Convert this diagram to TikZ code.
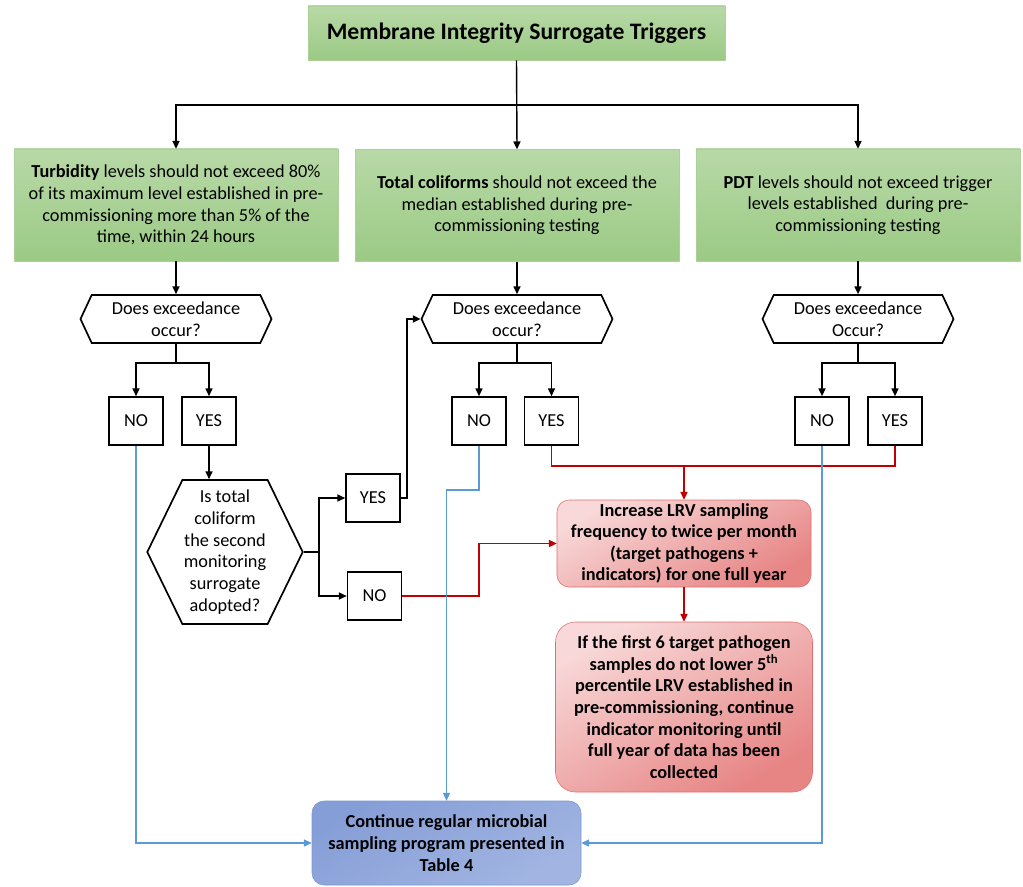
\documentclass[tikz,border=0pt]{standalone}
\usepackage{fontspec}
\setmainfont{Carlito}
\usetikzlibrary{arrows.meta, positioning, calc, shapes.symbols}
\definecolor{LeafTop}{RGB}{184, 217, 167}
\definecolor{LeafBottom}{RGB}{155, 202, 133}
\definecolor{LeafEdge}{RGB}{172, 208, 152}
\definecolor{AlertTop}{RGB}{248, 216, 216}
\definecolor{AlertBottom}{RGB}{231, 132, 132}
\definecolor{AlertEdge}{RGB}{224, 110, 110}
\definecolor{AlertLine}{RGB}{192, 0, 0}
\definecolor{CalmTop}{RGB}{134, 158, 215}
\definecolor{CalmBottom}{RGB}{162, 181, 226}
\definecolor{CalmEdge}{RGB}{122, 152, 212}
\definecolor{CalmLine}{RGB}{91, 155, 213}
\newlength{\unitpx}
\setlength{\unitpx}{0.025cm}

\begin{document}
\begin{tikzpicture}[
    x=0.025cm, y=-0.025cm,
    font={\fontsize{13}{15.4}\selectfont},
    titlebox/.style={
        top color=LeafTop,          % light green at the top
        bottom color=LeafBottom,    % darker green at the bottom
        draw=LeafEdge,
        inner sep=2pt,
        minimum width=417\unitpx,
        minimum height=54\unitpx,
        font={\fontsize{16.8}{19}\selectfont\bfseries}
    },
    greenbox/.style={
        top color=LeafTop,
        bottom color=LeafBottom,
        draw=LeafEdge,
        inner sep=1pt,
        align=center,
        minimum width=324\unitpx,
        minimum height=112\unitpx
    },
    decision/.style={
        signal,
        signal to=west and east,
        signal pointer angle=130,
        draw=black,
        line width=1.2pt,
        inner sep=1pt,
        align=center,
        minimum width=191\unitpx,
        minimum height=48\unitpx
    },
    answer/.style={
        draw=black,
        line width=1.2pt,
        minimum width=54\unitpx,
        minimum height=48\unitpx
    },
    redbox/.style={
        rounded corners=12\unitpx,
        top color=AlertTop,
        bottom color=AlertBottom,
        shading angle=30,
        draw=AlertEdge,
        align=center,
        inner sep=0pt,
        font={\fontsize{13}{15.4}\selectfont\bfseries}
    },
    bluebox/.style={
        rounded corners=12\unitpx,
        top color=CalmTop,
        bottom color=CalmBottom,
        shading angle=30,
        draw=CalmEdge,
        align=center,
        inner sep=0pt,
        minimum width=269\unitpx,
        minimum height=84\unitpx,
        font={\fontsize{13}{15.4}\selectfont\bfseries}
    },
    link/.style={
        draw=black,
        line width=1pt
    },
    flow/.style={
        link,
        -{Triangle[length=5.5pt, width=5pt]}
    },
    redlink/.style={
        draw=AlertLine,
        line width=1pt
    },
    redflow/.style={
        redlink,
        -{Triangle[length=5.5pt, width=5pt]}
    },
    blueflow/.style={
        draw=CalmLine,
        line width=1pt,
        -{Triangle[length=5.5pt, width=5pt]}
    }
]
    \useasboundingbox (0,0) rectangle (1023,886);

    % --- 1. Triggers ---
    \node[titlebox] (title) at (516.5,33) {Membrane Integrity Surrogate Triggers};
    \node[greenbox] (turb) at (176,205) {\textbf{Turbidity} levels should not exceed 80\%\\of its maximum level established in pre-\\commissioning more than 5\% of the\\time, within 24 hours};
    \node[greenbox] (coli) at (517,205.5) {\textbf{Total coliforms} should not exceed the\\median established during pre-\\commissioning testing};
    \node[greenbox] (pdt) at (858,205) {\textbf{PDT} levels should not exceed trigger\\levels established\ \ during pre-\\commissioning testing};

    % --- 2. Exceedance questions ---
    \node[decision] (askTurb) at (176,319) {Does exceedance\\occur?};
    \node[decision] (askColi) at (517,319) {Does exceedance\\occur?};
    \node[decision] (askPdt) at (858,319) {Does exceedance\\Occur?};

    % --- 3. Answers ---
    \node[answer] (noTurb) at (136,421) {NO};
    \node[answer] (yesTurb) at (209,421) {YES};
    \node[answer] (noColi) at (479,421) {NO};
    \node[answer] (yesColi) at (551.5,421) {YES};
    \node[answer] (noPdt) at (822,421) {NO};
    \node[answer] (yesPdt) at (895,421) {YES};

    % second surrogate check
    \node[decision, signal pointer angle=128, minimum width=152\unitpx, minimum height=144\unitpx]
        (askSecond) at (225,552) {Is total\\coliform\\the second\\monitoring\\surrogate\\adopted?};
    \node[answer] (yesSecond) at (373,498) {YES};
    \node[answer] (noSecond) at (374.5,596) {NO};

    % --- 4. Outcomes ---
    \node[redbox, minimum width=254\unitpx, minimum height=87\unitpx] (boost) at (684,543.5)
        {Increase LRV sampling\\frequency to twice per month\\(target pathogens +\\indicators) for one full year};
    \node[redbox, rounded corners=20\unitpx, minimum width=257\unitpx, minimum height=170\unitpx] (followup) at (684,707)
        {If the first 6 target pathogen\\samples do not lower 5\textsuperscript{th}\\percentile LRV established in\\pre-commissioning, continue\\indicator monitoring until\\full year of data has been\\collected};
    \node[bluebox] (regular) at (446.5,843)
        {Continue regular microbial\\sampling program presented in\\Table 4};

    % --- 5. Connectors ---
    \coordinate (bus) at (516.5,105);
    \draw[flow] (title.south) -- (coli.north);
    \draw[flow] (bus) -| (turb.north);
    \draw[flow] (bus) -| (pdt.north);

    \draw[flow] (turb.south) -- (askTurb.north);
    \draw[flow] (coli.south) -- (askColi.north);
    \draw[flow] (pdt.south) -- (askPdt.north);

    % splits under each question
    \coordinate (splitTurb) at (176,363);
    \coordinate (splitColi) at (517,363);
    \coordinate (splitPdt) at (858,363);
    \draw[link] (askTurb.south) -- (splitTurb);
    \draw[flow] (splitTurb) -| (noTurb.north);
    \draw[flow] (splitTurb) -| (yesTurb.north);
    \draw[link] (askColi.south) -- (splitColi);
    \draw[flow] (splitColi) -| (noColi.north);
    \draw[flow] (splitColi) -| (yesColi.north);
    \draw[link] (askPdt.south) -- (splitPdt);
    \draw[flow] (splitPdt) -| (noPdt.north);
    \draw[flow] (splitPdt) -| (yesPdt.north);

    % turbidity YES leads to the coliform check
    \draw[flow] (yesTurb.south) -- (yesTurb.south |- askSecond.north);
    \coordinate (forkSecond) at (319,552);
    \draw[link] (askSecond.east) -- (forkSecond);
    \draw[flow] (forkSecond) |- (yesSecond.west);
    \draw[flow] (forkSecond) |- (noSecond.west);
    \coordinate (riseSecond) at (407,498);
    \draw[flow] (yesSecond.east) -- (riseSecond) |- (askColi.west);

    % red paths to increased sampling
    \coordinate (riseAlert) at (479,596);
    \draw[redflow] (noSecond.east) -- (riseAlert) |- (boost.west);
    \coordinate (joinAlert) at (684,466);
    \draw[redlink] (yesColi.south) |- (joinAlert) -| (yesPdt.south);
    \draw[redflow] (joinAlert) -- (boost.north);
    \draw[redflow] (boost.south) -- (followup.north);

    % blue paths back to regular sampling
    \draw[blueflow] (noTurb.south) |- (regular.west);
    \coordinate (bendColi) at (446.5,490);
    \draw[blueflow] (noColi.south) |- (bendColi) -- (regular.north);
    \draw[blueflow] (noPdt.south) |- (regular.east);

\end{tikzpicture}
\end{document}
